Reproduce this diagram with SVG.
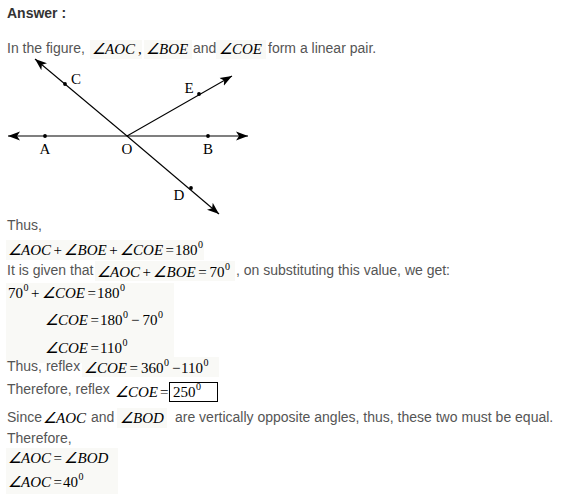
<svg xmlns="http://www.w3.org/2000/svg" width="562" height="495" viewBox="0 0 562 495">
<style>
.t{font-family:"Liberation Sans",Arial,sans-serif;font-size:14px;fill:#555555}
.h{font-family:"Liberation Sans",Arial,sans-serif;font-size:14px;font-weight:bold;fill:#333333}
.m{font-family:"Liberation Serif","Times New Roman",serif;font-size:15px;fill:#000}
.i{font-style:italic}
.s{font-size:10px}
.lb{font-family:"Liberation Serif","Times New Roman",serif;font-size:15px;fill:#000;text-anchor:middle}
.ln{stroke:#000;stroke-width:1.1;fill:none}
.bg{fill:#f9f9f6}
</style>
<defs>
<marker id="ah" markerUnits="userSpaceOnUse" markerWidth="14" markerHeight="10" refX="12" refY="5" orient="auto">
<path d="M0,0.5 L12,5 L0,9.5 L3,5 z" fill="#000"/>
</marker>
</defs>
<rect width="562" height="495" fill="#fff"/>

<g id="header">
<text class="h" x="7" y="18">Answer :</text>
</g>

<g id="figure">
<g id="connectors">
<line class="ln" x1="127" y1="136" x2="8" y2="136" marker-end="url(#ah)"/>
<line class="ln" x1="127" y1="136" x2="248" y2="136" marker-end="url(#ah)"/>
<line class="ln" x1="127" y1="136" x2="35" y2="59" marker-end="url(#ah)"/>
<line class="ln" x1="127" y1="136" x2="219" y2="214" marker-end="url(#ah)"/>
<line class="ln" x1="127" y1="136" x2="232" y2="76" marker-end="url(#ah)"/>
</g>
<g id="node-A"><circle cx="45" cy="136" r="1.9"/><text class="lb" x="45" y="154">A</text></g>
<g id="node-O"><text class="lb" x="127" y="154">O</text></g>
<g id="node-B"><circle cx="208" cy="136" r="1.9"/><text class="lb" x="208" y="154">B</text></g>
<g id="node-C"><circle cx="65" cy="84" r="1.9"/><text class="lb" x="76" y="84">C</text></g>
<g id="node-E"><circle cx="199" cy="94" r="1.9"/><text class="lb" x="189" y="93">E</text></g>
<g id="node-D"><circle cx="191" cy="188" r="1.9"/><text class="lb" x="179" y="200">D</text></g>
</g>

<g id="solution">
<text class="t" x="7" y="53">In the figure,</text>
<rect class="bg" x="90" y="40" width="52" height="19"/>
<rect class="bg" x="144" y="40" width="48" height="19"/>
<rect class="bg" x="216" y="40" width="50" height="19"/>
<text class="m i" x="92" y="54">∠AOC</text>
<text class="m" x="138" y="54">,</text>
<text class="m i" x="146" y="54">∠BOE</text>
<text class="t" x="193" y="53">and</text>
<text class="m i" x="219" y="54">∠COE</text>
<text class="t" x="268" y="53">form a linear pair.</text>

<text class="t" x="7" y="230">Thus,</text>
<rect class="bg" x="6" y="240" width="198" height="20"/>
<text class="m" x="8" y="255"><tspan class="i">∠AOC</tspan><tspan dx="2.5">+</tspan><tspan class="i" dx="2.5">∠BOE</tspan><tspan dx="2.5">+</tspan><tspan class="i" dx="2.5">∠COE</tspan><tspan dx="2.5">=</tspan><tspan dx="1">180</tspan><tspan class="s" dy="-7" dx="0.5">0</tspan></text>

<text class="t" x="7" y="275">It is given that</text>
<rect class="bg" x="95" y="261" width="140" height="20"/>
<text class="m" x="97" y="277"><tspan class="i">∠AOC</tspan><tspan dx="2.5">+</tspan><tspan class="i" dx="2.5">∠BOE</tspan><tspan dx="2.5">=</tspan><tspan dx="3">70</tspan><tspan class="s" dy="-7" dx="0.5">0</tspan></text>
<text class="t" x="236" y="275">, on substituting this value, we get:</text>

<rect class="bg" x="6" y="283" width="168" height="80"/>
<text class="m" x="8" y="298">70<tspan class="s" dy="-7" dx="0.5">0</tspan><tspan dy="7" dx="2.5">+</tspan><tspan class="i" dx="2.5">∠COE</tspan><tspan dx="2.5">=</tspan><tspan dx="1">180</tspan><tspan class="s" dy="-7" dx="0.5">0</tspan></text>
<text class="m" x="45" y="325"><tspan class="i">∠COE</tspan><tspan dx="2.5">=</tspan><tspan dx="1">180</tspan><tspan class="s" dy="-7" dx="0.5">0</tspan><tspan dy="7" dx="3">−</tspan><tspan dx="3">70</tspan><tspan class="s" dy="-7" dx="0.5">0</tspan></text>
<text class="m" x="45" y="353"><tspan class="i">∠COE</tspan><tspan dx="2.5">=</tspan><tspan dx="1">110</tspan><tspan class="s" dy="-7" dx="0.5">0</tspan></text>

<text class="t" x="7" y="371">Thus, reflex</text>
<rect class="bg" x="82" y="357" width="137" height="20"/>
<text class="m" x="84" y="373"><tspan class="i">∠COE</tspan><tspan dx="2.5">=</tspan><tspan dx="3">360</tspan><tspan class="s" dy="-7" dx="0.5">0</tspan><tspan dy="7" dx="3">−</tspan><tspan dx="0.5">110</tspan><tspan class="s" dy="-7" dx="0.5">0</tspan></text>

<text class="t" x="7" y="394">Therefore, reflex</text>
<text class="m" x="115" y="397"><tspan class="i">∠COE</tspan><tspan dx="2">=</tspan></text>
<rect x="169.5" y="382.5" width="48" height="19" fill="none" stroke="#000" stroke-width="1"/>
<text class="m" x="173" y="397">250<tspan class="s" dy="-7" dx="0.5">0</tspan></text>

<text class="t" x="7" y="422">Since</text>
<text class="m i" x="43" y="423">∠AOC</text>
<text class="t" x="91" y="422">and</text>
<rect class="bg" x="117" y="408" width="50" height="20"/>
<text class="m i" x="120" y="423">∠BOD</text>
<text class="t" x="175" y="422">are vertically opposite angles, thus, these two must be equal.</text>

<text class="t" x="7" y="443">Therefore,</text>
<rect class="bg" x="6" y="448" width="112" height="46"/>
<text class="m" x="8" y="463"><tspan class="i">∠AOC</tspan><tspan dx="2.5">=</tspan><tspan class="i" dx="2.5">∠BOD</tspan></text>
<text class="m" x="8" y="487"><tspan class="i">∠AOC</tspan><tspan dx="2.5">=</tspan><tspan dx="1">40</tspan><tspan class="s" dy="-7" dx="0.5">0</tspan></text>
</g>
</svg>
